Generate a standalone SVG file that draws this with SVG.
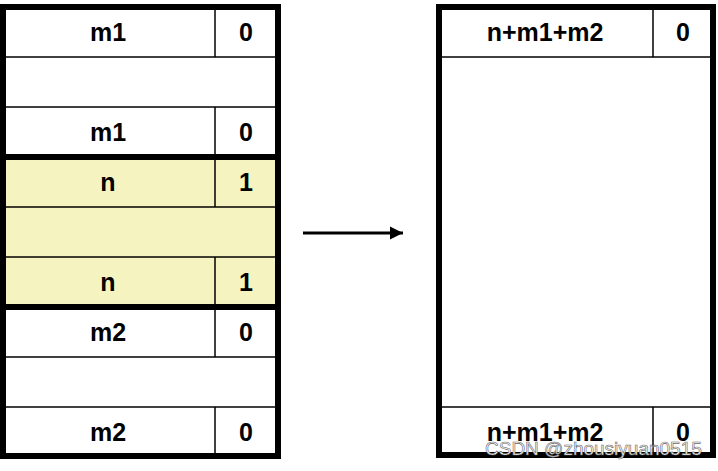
<svg xmlns="http://www.w3.org/2000/svg" width="718" height="471" viewBox="0 0 718 471">
<defs>
<style>
.thin{stroke:#000;stroke-width:1.5;fill:none}
.thick{stroke:#000;stroke-width:6;fill:none}
.t{font-family:"Liberation Sans",Arial,sans-serif;font-weight:bold;font-size:25px;fill:#000;text-anchor:middle}
.wm{font-family:"Liberation Sans",Arial,sans-serif;font-size:19px;fill:#fff;stroke:#666;stroke-width:0.6}
</style>
<marker id="ah" viewBox="0 0 10 10" refX="10" refY="5" markerWidth="4.5" markerHeight="4.5" orient="auto" markerUnits="strokeWidth">
<path d="M0,0 L10,5 L0,10 z" fill="#000"/>
</marker>
</defs>
<rect width="718" height="471" fill="#fff"/>
<g id="left-block">
<rect x="3" y="157" width="275" height="150" fill="#F5F3C0"/>
<line class="thin" x1="3" y1="57" x2="278" y2="57"/>
<line class="thin" x1="3" y1="107" x2="278" y2="107"/>
<line class="thin" x1="3" y1="207" x2="278" y2="207"/>
<line class="thin" x1="3" y1="257" x2="278" y2="257"/>
<line class="thin" x1="3" y1="357" x2="278" y2="357"/>
<line class="thin" x1="3" y1="407" x2="278" y2="407"/>
<line class="thin" x1="215" y1="7" x2="215" y2="57"/>
<line class="thin" x1="215" y1="107" x2="215" y2="207"/>
<line class="thin" x1="215" y1="257" x2="215" y2="357"/>
<line class="thin" x1="215" y1="407" x2="215" y2="456"/>
<line class="thick" x1="3" y1="157" x2="278" y2="157"/>
<line class="thick" x1="3" y1="307" x2="278" y2="307"/>
<rect class="thick" x="3" y="7" width="275" height="449"/>
<text class="t" x="108" y="41">m1</text><text class="t" x="246" y="41">0</text>
<text class="t" x="108" y="141">m1</text><text class="t" x="246" y="141">0</text>
<text class="t" x="108" y="191">n</text><text class="t" x="246" y="191">1</text>
<text class="t" x="108" y="291">n</text><text class="t" x="246" y="291">1</text>
<text class="t" x="108" y="341">m2</text><text class="t" x="246" y="341">0</text>
<text class="t" x="108" y="441">m2</text><text class="t" x="246" y="441">0</text>
</g>
<g id="right-block">
<line class="thin" x1="439" y1="57" x2="713" y2="57"/>
<line class="thin" x1="439" y1="407" x2="713" y2="407"/>
<line class="thin" x1="653" y1="7" x2="653" y2="57"/>
<line class="thin" x1="653" y1="407" x2="653" y2="455"/>
<rect class="thick" x="439" y="7" width="274" height="448"/>
<text class="t" x="545" y="41">n+m1+m2</text><text class="t" x="683" y="41">0</text>
<text class="t" x="545" y="441">n+m1+m2</text><text class="t" x="683" y="441">0</text>
</g>
<g id="connectors">
<line x1="303" y1="233" x2="403" y2="233" stroke="#000" stroke-width="3" marker-end="url(#ah)"/>
</g>
<text class="wm" x="485" y="455">CSDN @zhousiyuan0515</text>
</svg>
